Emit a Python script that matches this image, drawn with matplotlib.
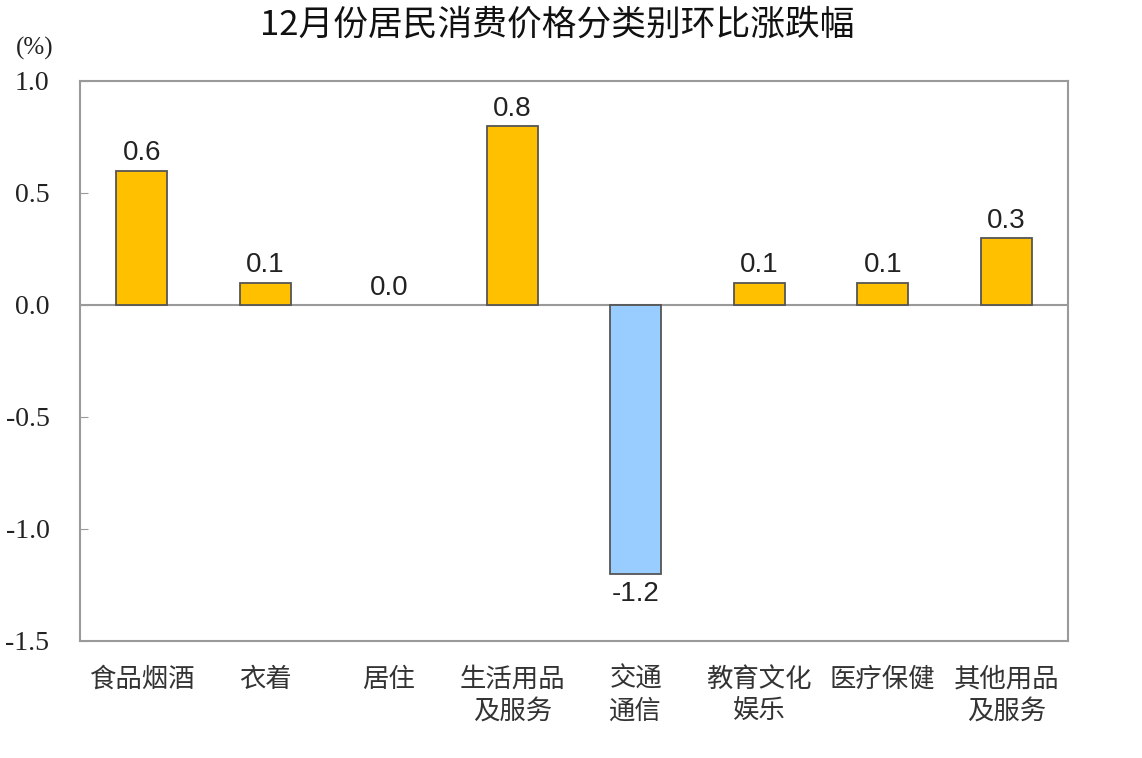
import matplotlib.pyplot as plt
import numpy as np

categories = ['食品烟酒', '衣着', '居住', '生活用品\n及服务', '交通\n通信',
              '教育文化\n娱乐', '医疗保健', '其他用品\n及服务']
values = [0.6, 0.1, 0.0, 0.8, -1.2, 0.1, 0.1, 0.3]
yticks = [1.0, 0.5, 0.0, -0.5, -1.0, -1.5]
title = '12月份居民消费价格分类别环比涨跌幅'

POS_COLOR = '#FFC000'
NEG_COLOR = '#99CCFF'
GRID_GRAY = '#9a9a9a'
CJK = ['Noto Sans CJK SC', 'DejaVu Sans']

fig = plt.figure(figsize=(11.42, 7.58), dpi=100)
ax = fig.add_axes([80 / 1142, 1 - 641 / 758, 988 / 1142, 560 / 758])

x = np.arange(len(categories))
colors = [POS_COLOR if v >= 0 else NEG_COLOR for v in values]
widths = [1.3 if v != 0 else 0 for v in values]
ax.bar(x, values, width=0.41, color=colors, edgecolor='#555555', linewidth=widths, zorder=3)

# value labels
for xi, v in zip(x, values):
    off, va = (3, 'bottom') if v >= 0 else (-5, 'top')
    ax.annotate(f'{v:.1f}', (xi, v), xytext=(0, off), textcoords='offset points',
                ha='center', va=va, fontsize=20, family='Liberation Sans', color='#222222')

ax.axhline(0, color=GRID_GRAY, linewidth=1.5, zorder=2)
ax.set_xlim(-0.5, len(categories) - 0.5)
ax.set_ylim(-1.5, 1.0)
ax.set_yticks(yticks)
ax.set_yticklabels([f'{t:.1f}' for t in yticks], family='Liberation Serif', fontsize=20, color='#222222')
ax.tick_params(axis='y', direction='in', length=6, color=GRID_GRAY, pad=22)
ax.set_xticks(x)
ax.set_xticklabels(categories, family=CJK, fontsize=19, color='#333333', linespacing=1.2)
ax.tick_params(axis='x', length=0, pad=18)
for s in ax.spines.values():
    s.set_color(GRID_GRAY)
    s.set_linewidth(1.5)

fig.text(557 / 1142, 1 - 25 / 758, title, ha='center', va='center',
         family=CJK, fontsize=25, color='#111111')
fig.text(35 / 1142, 1 - 48 / 758, '(%)', ha='center', va='center',
         family='Liberation Serif', fontsize=18, color='#222222')

fig.savefig('out.png', dpi=100)
